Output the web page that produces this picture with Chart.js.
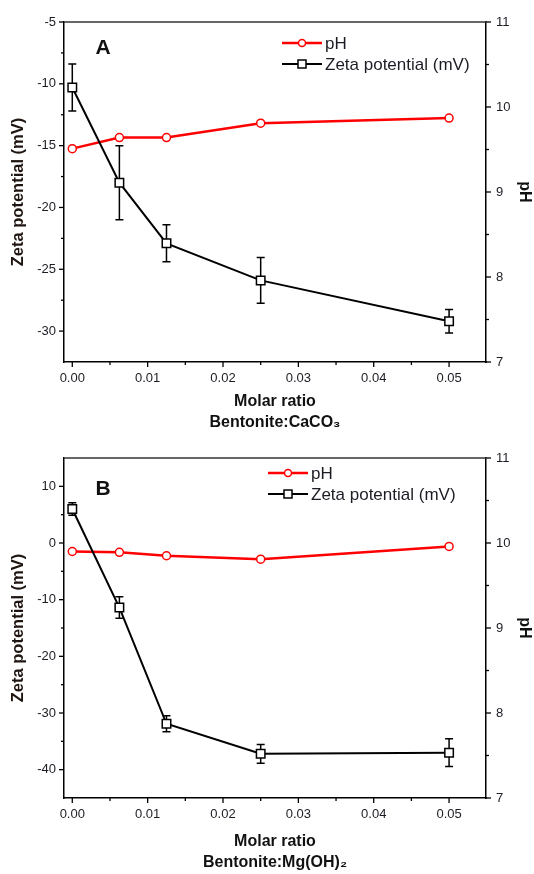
<!DOCTYPE html>
<html>
<head>
<meta charset="utf-8">
<script src="https://cdn.jsdelivr.net/npm/chart.js@4.4.0/dist/chart.umd.min.js"></script>
<style>
  body { margin: 0; background: #fff; }
  canvas { display: block; }
</style>
</head>
<body>
<canvas id="chartA" width="534" height="437"></canvas>
<canvas id="chartB" width="534" height="437"></canvas>
<script>
// molar ratio bentonite : additive
const molarRatio = [0, 0.00625, 0.0125, 0.025, 0.05];

// panel A - CaCO3
const zetaA    = [-10.3, -18.0, -22.9, -25.9, -29.2];
const zetaErrA = [1.9, 3.0, 1.5, 1.85, 0.95];
const phA      = [9.51, 9.64, 9.64, 9.81, 9.87];

// panel B - Mg(OH)2
const zetaB    = [6.0, -11.4, -31.9, -37.2, -37.0];
const zetaErrB = [1.1, 1.9, 1.4, 1.65, 2.45];
const phB      = [9.90, 9.89, 9.85, 9.81, 9.96];

const xTicks     = [0, 0.01, 0.02, 0.03, 0.04, 0.05];
const zetaTicksA = [-30, -25, -20, -15, -10, -5];
const zetaTicksB = [-40, -30, -20, -10, 0, 10];
const phTicks    = [7, 8, 9, 10, 11];

const FONT = "'Liberation Sans', Arial, Helvetica, sans-serif";
const TXT = '#1c1c24';
const RED = '#ff0000';

function minorsOf(s) {
  const v = s.ticks.map(t => t.value);
  const out = [];
  for (let i = 0; i < v.length; i++) {
    const step = i < v.length - 1 ? v[i + 1] - v[i] : v[i] - v[i - 1];
    if (i === 0) out.push(v[0] - step / 2);
    out.push(v[i] + step / 2);
  }
  const lo = Math.min(s.min, s.max), hi = Math.max(s.min, s.max);
  return out.filter(m => m > lo + 1e-9 && m < hi - 1e-9);
}

const extras = {
  id: 'extras',
  beforeDatasetsDraw(chart, args, o) {
    const ctx = chart.ctx, xs = chart.scales.x, ys = chart.scales.y;
    ctx.save();
    ctx.strokeStyle = '#000';
    ctx.lineWidth = 1.5;
    o.values.forEach((v, i) => {
      const px = xs.getPixelForValue(molarRatio[i]);
      const t = ys.getPixelForValue(v + o.err[i]);
      const b = ys.getPixelForValue(v - o.err[i]);
      ctx.beginPath();
      ctx.moveTo(px, t); ctx.lineTo(px, b);
      ctx.moveTo(px - 4, t); ctx.lineTo(px + 4, t);
      ctx.moveTo(px - 4, b); ctx.lineTo(px + 4, b);
      ctx.stroke();
    });
    ctx.restore();
  },
  afterDraw(chart, args, o) {
    const ctx = chart.ctx, a = chart.chartArea;
    const {x, y, y1} = chart.scales;
    ctx.save();
    // top frame line
    ctx.strokeStyle = '#333';
    ctx.lineWidth = 1.5;
    ctx.beginPath(); ctx.moveTo(a.left, a.top); ctx.lineTo(a.right, a.top); ctx.stroke();

    // tick marks, major and minor, outward
    ctx.strokeStyle = '#000';
    ctx.lineWidth = 1.3;
    const mark = (s, val, len) => {
      const p = s.getPixelForValue(val);
      ctx.beginPath();
      if (s === x) { ctx.moveTo(p, a.bottom); ctx.lineTo(p, a.bottom + len); }
      else if (s === y) { ctx.moveTo(a.left - len, p); ctx.lineTo(a.left, p); }
      else { ctx.moveTo(a.right, p); ctx.lineTo(a.right + len, p); }
      ctx.stroke();
    };
    [x, y, y1].forEach(s => {
      s.ticks.forEach(t => mark(s, t.value, 5));
      minorsOf(s).forEach(m => mark(s, m, 3));
    });

    // legend
    const rows = [chart.data.datasets[1], chart.data.datasets[0]];
    ctx.font = '17px ' + FONT;
    ctx.textBaseline = 'middle';
    ctx.textAlign = 'left';
    rows.forEach((ds, i) => {
      const ly = o.legendY + i * o.legendGap;
      const lx = o.legendX;
      ctx.strokeStyle = ds.borderColor;
      ctx.lineWidth = ds.borderWidth;
      ctx.beginPath(); ctx.moveTo(lx, ly); ctx.lineTo(lx + 40, ly); ctx.stroke();
      ctx.fillStyle = '#fff';
      ctx.lineWidth = 1.5;
      ctx.beginPath();
      if (ds.pointStyle === 'circle') ctx.arc(lx + 20, ly, 3.5, 0, Math.PI * 2);
      else ctx.rect(lx + 16, ly - 4, 8, 8);
      ctx.fill(); ctx.stroke();
      ctx.fillStyle = TXT;
      ctx.fillText(ds.label, lx + 43, ly + 1);
    });

    // panel letter
    ctx.font = 'bold 21px ' + FONT;
    ctx.fillStyle = '#111';
    ctx.textAlign = 'center';
    ctx.fillText(o.letter, o.letterX, o.letterY);
    ctx.restore();
  }
};

function makePanel(id, cfg) {
  const setTicks = vals => s => { s.ticks = vals.map(v => ({value: v})); };
  return new Chart(document.getElementById(id), {
    type: 'line',
    data: {
      datasets: [
        {
          label: 'Zeta potential (mV)',
          data: molarRatio.map((m, i) => ({x: m, y: cfg.zeta[i]})),
          yAxisID: 'y',
          borderColor: '#000',
          borderWidth: 2,
          pointStyle: 'rect',
          pointRadius: 6,
          pointBorderWidth: 1.5,
          pointBackgroundColor: '#fff',
          pointBorderColor: '#000',
          tension: 0
        },
        {
          label: 'pH',
          data: molarRatio.map((m, i) => ({x: m, y: cfg.ph[i]})),
          yAxisID: 'y1',
          borderColor: RED,
          borderWidth: 2.5,
          pointStyle: 'circle',
          pointRadius: 4,
          pointBorderWidth: 1.5,
          pointBackgroundColor: '#fff',
          pointBorderColor: RED,
          tension: 0
        }
      ]
    },
    options: {
      responsive: false,
      animation: false,
      devicePixelRatio: 1,
      layout: { padding: { top: cfg.top, left: 0, right: 0, bottom: 0 } },
      plugins: {
        legend: { display: false },
        tooltip: { enabled: false },
        extras: {
          values: cfg.zeta, err: cfg.err, letter: cfg.letter,
          letterX: 103, letterY: cfg.letterY,
          legendX: cfg.legendX, legendY: cfg.legendY, legendGap: 21
        }
      },
      scales: {
        x: {
          type: 'linear',
          min: -0.0011, max: 0.0549,
          afterBuildTicks: setTicks(xTicks),
          afterFit: s => { s.height = 437 - cfg.top - 340; },
          grid: { display: false, drawTicks: true, tickLength: 5 },
          border: { display: true, color: '#000', width: 1.5 },
          ticks: {
            padding: 4, color: TXT, font: { family: FONT, size: 13 },
            maxRotation: 0, autoSkip: false,
            callback: v => v.toFixed(2)
          },
          title: {
            display: true,
            text: ['Molar ratio', cfg.xTitle],
            color: '#111',
            font: { family: FONT, size: 16, weight: 'bold', lineHeight: 1.33 },
            padding: { top: 0, bottom: cfg.titlePad }
          }
        },
        y: {
          position: 'left',
          min: cfg.yMin, max: cfg.yMax,
          afterBuildTicks: setTicks(cfg.yTicks),
          afterFit: s => { s.width = 64; },
          grid: { display: false, drawTicks: true, tickLength: 5 },
          border: { display: true, color: '#000', width: 1.5 },
          ticks: { padding: 3, color: TXT, font: { family: FONT, size: 13 }, autoSkip: false },
          title: {
            display: true, text: 'Zeta potential (mV)', color: '#1e1410',
            font: { family: FONT, size: 16.5, weight: 'bold', lineHeight: 1.2 },
            padding: { top: 9, bottom: 0 }
          }
        },
        y1: {
          position: 'right',
          min: 7, max: 11,
          afterBuildTicks: setTicks(phTicks),
          afterFit: s => { s.width = 48; },
          grid: { display: false, drawTicks: true, tickLength: 5 },
          border: { display: true, color: '#000', width: 1.5 },
          ticks: { padding: 5, color: TXT, font: { family: FONT, size: 13 }, autoSkip: false },
          title: {
            display: true, text: 'pH', color: '#111',
            font: { family: FONT, size: 16, weight: 'bold', lineHeight: 1.2 },
            padding: { top: 0, bottom: 0 }
          }
        }
      }
    },
    plugins: [extras]
  });
}

makePanel('chartA', {
  zeta: zetaA, err: zetaErrA, ph: phA, letter: 'A',
  yMin: -32.5, yMax: -5, yTicks: zetaTicksA,
  xTitle: 'Bentonite:CaCO\u2083', top: 22, titlePad: 3.5, letterY: 48,
  legendX: 282, legendY: 43
});

makePanel('chartB', {
  zeta: zetaB, err: zetaErrB, ph: phB, letter: 'B',
  yMin: -45, yMax: 15, yTicks: zetaTicksB,
  xTitle: 'Bentonite:Mg(OH)\u2082', top: 21, titlePad: 0.5, letterY: 52,
  legendX: 268, legendY: 36
});
</script>
</body>
</html>
